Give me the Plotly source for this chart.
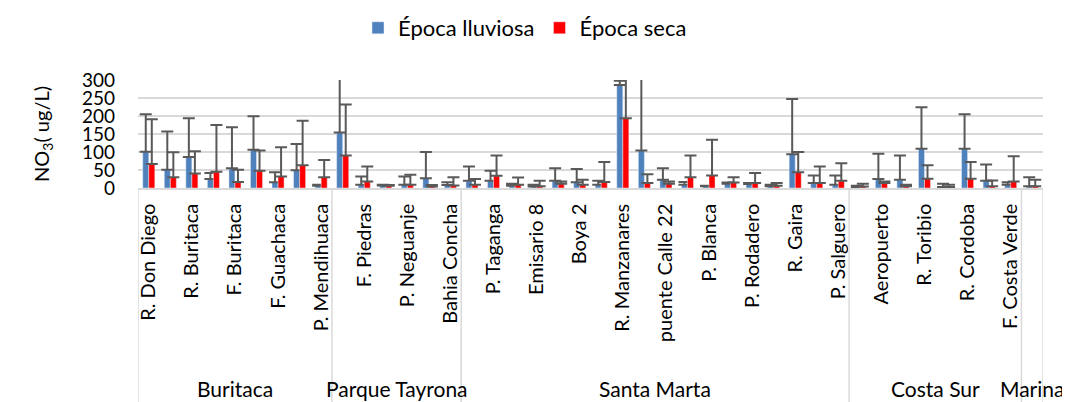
import plotly.graph_objects as go

# Sites (category axis). Only every other label is shown in the reference (Excel label skip);
# labels of the odd positions are not visible there, so they are placeholders.
sites = [
    "R. Don Diego", "Sitio 2", "R. Buritaca", "Sitio 4", "F. Buritaca", "Sitio 6",
    "F. Guachaca", "Sitio 8", "P. Mendihuaca",
    "Sitio 10", "F. Piedras", "Sitio 12", "P. Neguanje", "Sitio 14", "Bahia Concha",
    "Sitio 16", "P. Taganga", "Sitio 18", "Emisario 8", "Sitio 20", "Boya 2", "Sitio 22",
    "R. Manzanares", "Sitio 24", "puente Calle 22", "Sitio 26", "P. Blanca", "Sitio 28",
    "P. Rodadero", "Sitio 30", "R. Gaira", "Sitio 32", "P. Salguero",
    "Sitio 34", "Aeropuerto", "Sitio 36", "R. Toribio", "Sitio 38", "R. Cordoba", "Sitio 40",
    "F. Costa Verde",
    "Sitio 42",
]
groups = ["Buritaca", "Parque Tayrona", "Santa Marta", "Costa Sur", "Marina"]
group_sizes = [9, 6, 18, 8, 1]

lluviosa = [101, 51, 86, 25, 55, 106, 16, 49, 6,
            154, 9, 7, 9, 27, 8,
            20, 20, 6, 4, 20, 16, 9, 286, 104, 23, 9, 5, 12, 11, 5, 94, 14, 9,
            3, 25, 23, 109, 3, 109, 20, 9,
            5]
lluviosa_err = [104, 106, 108, 17, 114, 93, 28, 73, 3,
                181, 23, 2, 23, 73, 8,
                40, 28, 6, 5, 35, 37, 11, 12, 220, 32, 8, 1, 3, 3, 4, 153, 21, 26,
                3, 70, 67, 115, 9, 96, 45, 7,
                25]
seca = [67, 30, 40, 45, 17, 48, 32, 63, 30,
        90, 18, 6, 9, 4, 7,
        9, 34, 9, 5, 12, 9, 17, 194, 14, 12, 30, 35, 15, 14, 6, 44, 14, 20,
        4, 14, 5, 26, 3, 26, 5, 18,
        5]
seca_err = [124, 69, 62, 130, 34, 56, 81, 124, 48,
            142, 42, 2, 28, 4, 23,
            16, 56, 20, 15, 6, 14, 55, 130, 24, 6, 60, 99, 15, 28, 8, 56, 46, 49,
            8, 4, 4, 37, 6, 46, 16, 70,
            18]

y_ticks = [0, 50, 100, 150, 200, 250, 300]

FONT = "Lato"
FS = 20
ERR_COLOR = "#595959"
GRID = "#d9d9d9"

fig = go.Figure()
fig.add_trace(go.Bar(
    name="Época lluviosa", x=sites, y=lluviosa, marker_color="#4F81BD",
    error_y=dict(type="data", symmetric=False, array=lluviosa_err,
                 arrayminus=[0] * len(lluviosa), color=ERR_COLOR, thickness=2, width=6),
))
fig.add_trace(go.Bar(
    name="Época seca", x=sites, y=seca, marker_color="#FF0000",
    error_y=dict(type="data", symmetric=False, array=seca_err,
                 arrayminus=[0] * len(seca), color=ERR_COLOR, thickness=2, width=6),
))

H_PLOT = 108.0
W_PLOT = 905.0
bottom_px = 214.0

# group dividers and labels
start = 0
bounds = [-0.5]
for g, n in zip(groups, group_sizes):
    center = start + (n - 1) / 2.0
    fig.add_annotation(x=center, y=-(200.0 / H_PLOT), xref="x", yref="paper",
                       text=g, showarrow=False, yanchor="middle", xanchor="center",
                       font=dict(family=FONT, size=21, color="#000000"))
    start += n
    bounds.append(start - 0.5)
for b in bounds:
    fig.add_shape(type="line", xref="x", yref="paper", x0=b, x1=b, y0=0,
                  y1=-(bottom_px / H_PLOT), line=dict(color=GRID, width=1.5))

fig.add_annotation(xref="paper", yref="paper", x=(42 - 138) / W_PLOT, y=0.5,
                   text="NO<sub>3</sub>( ug/L)", textangle=-90, showarrow=False,
                   xanchor="center", yanchor="middle",
                   font=dict(family=FONT, size=FS, color="#000000"))

fig.update_layout(
    width=1062, height=394,
    margin=dict(l=130, r=27, t=72, b=214, autoexpand=False),
    paper_bgcolor="white", plot_bgcolor="white",
    barmode="group", bargap=0.44, bargroupgap=0,
    font=dict(family=FONT, size=FS, color="#000000"),
    showlegend=True,
    legend=dict(orientation="h", x=(525 - 138) / W_PLOT, xanchor="center",
                y=(188 - 28) / H_PLOT, yanchor="middle",
                font=dict(family=FONT, size=22, color="#000000"),
                itemwidth=30, tracegroupgap=0),
    xaxis=dict(type="category", categoryorder="array", categoryarray=sites,
               range=[-0.5, len(sites) - 0.5],
               tickmode="array", tickvals=sites[::2], ticktext=sites[::2],
               tickangle=-90, showgrid=False, showline=True, linecolor=GRID,
               linewidth=1.5, ticks="", ticklabelstandoff=6,
               tickfont=dict(family=FONT, size=FS, color="#000000")),
    yaxis=dict(range=[0, 300], tickmode="array", tickvals=y_ticks,
               showgrid=True, gridcolor=GRID, gridwidth=1.5, zeroline=False,
               showline=False, ticks="", ticklabelstandoff=22,
               tickfont=dict(family=FONT, size=19, color="#000000")),
)

fig.write_html("out.html")
